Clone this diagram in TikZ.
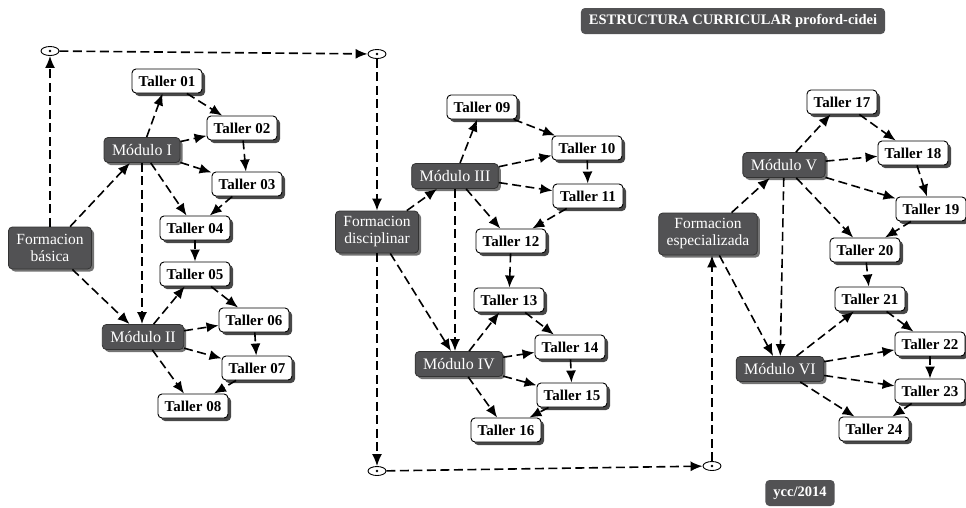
\documentclass[tikz,border=0pt]{standalone}
\usepackage{fontspec}
\setmainfont{Liberation Serif}
\usetikzlibrary{arrows.meta,shadows,shapes.geometric}

\definecolor{boxdark}{RGB}{82,82,84}
\definecolor{shadegray}{RGB}{72,72,72}

\tikzset{
  boxbase/.style={rounded corners=4pt, inner sep=0pt, align=center},
  taller/.style={boxbase, draw=black, line width=0.9pt, fill=white,
    minimum width=70pt, minimum height=24pt,
    font=\fontsize{15}{16}\selectfont\bfseries,
    drop shadow={shadow xshift=3pt, shadow yshift=-3pt, fill=shadegray, opacity=1}},
  modulo/.style={boxbase, draw=black!80, line width=0.8pt, fill=boxdark, text=white,
    inner xsep=8pt, minimum height=25pt,
    font=\fontsize{16}{17}\selectfont,
    drop shadow={shadow xshift=2.5pt, shadow yshift=-2.5pt, fill=black!55, opacity=1}},
  formacion/.style={boxbase, draw=black!80, line width=0.8pt, fill=boxdark, text=white,
    inner xsep=8pt, minimum height=42pt,
    font=\fontsize{15.5}{17}\selectfont,
    drop shadow={shadow xshift=2.5pt, shadow yshift=-2.5pt, fill=black!55, opacity=1}},
  banner/.style={boxbase, fill=boxdark, text=white, inner xsep=8pt, minimum height=26pt,
    font=\fontsize{14.5}{16}\selectfont\bfseries},
  junction/.style={ellipse, draw=black, line width=0.9pt, fill=white,
    minimum width=18pt, minimum height=9pt, inner sep=0pt},
  link/.style={line width=1.6pt, dash pattern=on 9pt off 4.5pt,
    -{Latex[length=12pt,width=10pt]}},
}

\begin{document}
\begin{tikzpicture}[x=1pt,y=-1pt]
\useasboundingbox (0,0) rectangle (966,507);

% headings
\node[banner] (title) at (733,21) {ESTRUCTURA CURRICULAR proford-cidei};
\node[banner] (sign) at (800,493) {ycc/2014};

% junction points of the main path, each with a centre dot
\node[junction] (j1) at (50,51) {};
\node[junction] (j2) at (377,54) {};
\node[junction] (j3) at (377,471) {};
\node[junction] (j4) at (712,466) {};
\foreach \j in {j1,j2,j3,j4} \fill (\j.center) circle (1.3pt);

% stages
\node[formacion] (fb) at (50,248) {Formacion\\básica};
\node[formacion] (fd) at (377,232) {Formacion\\disciplinar};
\node[formacion] (fe) at (708,234) {Formacion\\especializada};

% modules
\node[modulo] (m1) at (142,150) {Módulo I};
\node[modulo] (m2) at (143,337) {Módulo II};
\node[modulo] (m3) at (455,176) {Módulo III};
\node[modulo] (m4) at (459,364) {Módulo IV};
\node[modulo] (m5) at (784,165) {Módulo V};
\node[modulo] (m6) at (780,369) {Módulo VI};

% workshops
\node[taller] (t01) at (167,81)  {Taller 01};
\node[taller] (t02) at (242,128) {Taller 02};
\node[taller] (t03) at (247,184) {Taller 03};
\node[taller] (t04) at (195,228) {Taller 04};
\node[taller] (t05) at (195,274) {Taller 05};
\node[taller] (t06) at (254,320) {Taller 06};
\node[taller] (t07) at (257,368) {Taller 07};
\node[taller] (t08) at (193,406) {Taller 08};

\node[taller] (t09) at (482,107) {Taller 09};
\node[taller] (t10) at (587,148) {Taller 10};
\node[taller] (t11) at (588,196) {Taller 11};
\node[taller] (t12) at (511,241) {Taller 12};
\node[taller] (t13) at (509,300) {Taller 13};
\node[taller] (t14) at (570,347) {Taller 14};
\node[taller] (t15) at (572,395) {Taller 15};
\node[taller] (t16) at (506,430) {Taller 16};

\node[taller] (t17) at (842,102) {Taller 17};
\node[taller] (t18) at (913,153) {Taller 18};
\node[taller] (t19) at (931,209) {Taller 19};
\node[taller] (t20) at (865,250) {Taller 20};
\node[taller] (t21) at (870,299) {Taller 21};
\node[taller] (t22) at (930,344) {Taller 22};
\node[taller] (t23) at (930,391) {Taller 23};
\node[taller] (t24) at (874,429) {Taller 24};

% main path between stages
\draw[link] (fb) -- (j1);
\draw[link] (j1) -- (j2);
\draw[link] (j2) -- (fd);
\draw[link] (fd) -- (j3);
\draw[link] (j3) -- (j4);
\draw[link] (j4.north) -- (j4.north |- fe.south);

% first stage
\draw[link] (fb) -- (m1);
\draw[link] (fb) -- (m2);
\draw[link] (m1.south) -- (m1.south |- m2.north);
\draw[link] (m1) -- (t01);
\draw[link] (m1) -- (t02);
\draw[link] (m1) -- (t03);
\draw[link] (m1) -- (t04);
\draw[link] (t01) -- (t02);
\draw[link] (t02) -- (t03);
\draw[link] (t03) -- (t04);
\draw[link] (t04) -- (t05);
\draw[link] (m2) -- (t05);
\draw[link] (m2) -- (t06);
\draw[link] (m2) -- (t07);
\draw[link] (m2) -- (t08);
\draw[link] (t05) -- (t06);
\draw[link] (t06) -- (t07);
\draw[link] (t07) -- (t08);

% second stage
\draw[link] (fd) -- (m3);
\draw[link] (fd) -- (m4);
\draw[link] (m3.south) -- (m3.south |- m4.north);
\draw[link] (m3) -- (t09);
\draw[link] (m3) -- (t10);
\draw[link] (m3) -- (t11);
\draw[link] (m3) -- (t12);
\draw[link] (t09) -- (t10);
\draw[link] (t10) -- (t11);
\draw[link] (t11) -- (t12);
\draw[link] (t12) -- (t13);
\draw[link] (m4) -- (t13);
\draw[link] (m4) -- (t14);
\draw[link] (m4) -- (t15);
\draw[link] (m4) -- (t16);
\draw[link] (t13) -- (t14);
\draw[link] (t14) -- (t15);
\draw[link] (t15) -- (t16);

% third stage
\draw[link] (fe) -- (m5);
\draw[link] (fe) -- (m6);
\draw[link] (m5) -- (m6);
\draw[link] (m5) -- (t17);
\draw[link] (m5) -- (t18);
\draw[link] (m5) -- (t19);
\draw[link] (m5) -- (t20);
\draw[link] (t17) -- (t18);
\draw[link] (t18) -- (t19);
\draw[link] (t19) -- (t20);
\draw[link] (t20) -- (t21);
\draw[link] (m6) -- (t21);
\draw[link] (m6) -- (t22);
\draw[link] (m6) -- (t23);
\draw[link] (m6) -- (t24);
\draw[link] (t21) -- (t22);
\draw[link] (t22) -- (t23);
\draw[link] (t23) -- (t24);
\end{tikzpicture}
\end{document}
